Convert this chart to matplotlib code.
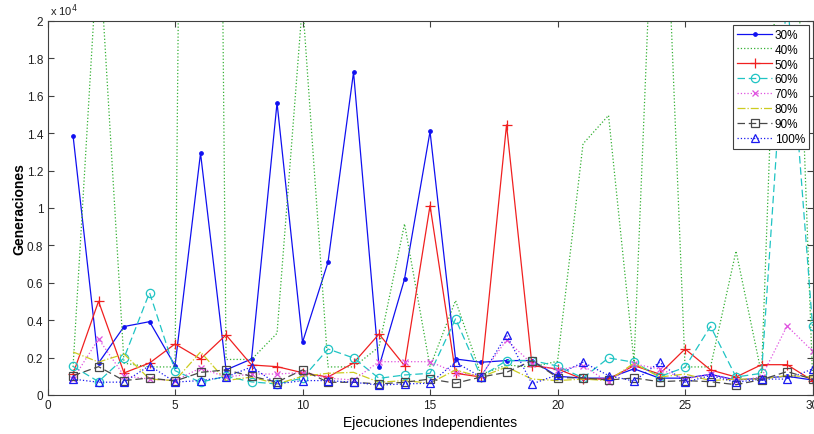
import numpy as np
import matplotlib
matplotlib.use('Agg')
import matplotlib.pyplot as plt
from matplotlib.ticker import FuncFormatter, MultipleLocator

plt.rcParams['font.family'] = ['Liberation Sans', 'DejaVu Sans']

# Generaciones por ejecucion independiente (30 corridas) para cada porcentaje
ejecuciones = np.arange(1, 31)

gen_30 = [13870, 1710, 3660, 3920, 1570, 12930, 1340, 1925, 15620, 2820,
          7110, 17260, 1515, 6200, 14090, 1925, 1750, 1840, 1840, 1000,
          900, 900, 1400, 900, 900, 1100, 800, 900, 1000, 800]
gen_40 = [1500, 24500, 1700, 1500, 1500, 150000, 1900, 1900, 3300, 21000,
          1500, 1500, 2570, 9150, 1500, 5050, 1100, 1600, 1500, 1800,
          13430, 14950, 1760, 35500, 1500, 1500, 7700, 1120, 39000, 1000]
gen_50 = [1120, 5010, 1180, 1710, 2730, 1925, 3210, 1605, 1515, 1190,
          960, 1710, 3260, 1570, 10130, 1160, 960, 14445, 1570, 1390,
          850, 850, 1570, 1120, 2460, 1340, 960, 1620, 1620, 770]
gen_60 = [1530, 715, 1980, 5475, 1300, 680, 1000, 700, 590, 900,
          2460, 1980, 890, 1070, 1160, 4070, 980, 1840, 1840, 1550,
          910, 1980, 1750, 980, 1480, 3670, 960, 1160, 21500, 3700]
gen_70 = [850, 3000, 1030, 850, 770, 1440, 960, 1120, 1120, 1200,
          900, 800, 1780, 1780, 1780, 1200, 1040, 2940, 1660, 1340,
          1570, 680, 1660, 1390, 850, 1120, 770, 960, 3690, 2350]
gen_80 = [2300, 1760, 2190, 850, 770, 2300, 770, 960, 590, 1000,
          1160, 1210, 680, 770, 630, 1340, 960, 1500, 850, 770,
          850, 770, 1700, 960, 1120, 770, 850, 850, 1040, 960]
gen_90 = [1030, 1515, 770, 910, 745, 1210, 1340, 1000, 690, 1340,
          680, 680, 590, 680, 850, 630, 960, 1210, 1840, 930,
          910, 800, 910, 710, 770, 710, 550, 820, 1250, 850]
gen_100 = [850, 680, 690, 1570, 690, 770, 960, 1500, 590, 770,
           770, 680, 530, 590, 630, 1750, 960, 3210, 590, 1080,
           1750, 1040, 740, 1750, 680, 1040, 680, 850, 850, 1390]

etiquetas = ['30%', '40%', '50%', '60%', '70%', '80%', '90%', '100%']
series = [gen_30, gen_40, gen_50, gen_60, gen_70, gen_80, gen_90, gen_100]

# estilo tipo MATLAB: color, linea, marcador
estilos = [
    dict(color='#1010f0', ls='-', marker='.', ms=5),
    dict(color='#33b033', ls=':', marker='None'),
    dict(color='#f02020', ls='-', marker='+', ms=7),
    dict(color='#20c4c4', ls=(0, (6, 3)), marker='o', ms=6, mfc='none'),
    dict(color='#e050e0', ls=':', marker='x', ms=4),
    dict(color='#cccc20', ls='-.', marker='None'),
    dict(color='#484848', ls=(0, (6, 3)), marker='s', ms=5.5, mfc='none'),
    dict(color='#1a1af0', ls=':', marker='^', ms=6, mfc='none'),
]

fig = plt.figure(figsize=(8.14, 4.35), dpi=100)
ax = fig.add_axes([0.0584, 0.0897, 0.9398, 0.8598])

for datos, nombre, st in zip(series, etiquetas, estilos):
    ax.plot(ejecuciones, datos, label=nombre, lw=0.9, mew=0.9, **st)

ax.set_xlim(0, 30)
ax.set_ylim(0, 20000)
ax.xaxis.set_major_locator(MultipleLocator(5))
ax.yaxis.set_major_locator(MultipleLocator(2000))
ax.yaxis.set_major_formatter(FuncFormatter(lambda v, p: f'{v / 1e4:g}'))

gris = '#404040'
for s in ax.spines.values():
    s.set_color(gris)
    s.set_linewidth(0.8)
ax.tick_params(direction='in', top=True, right=True, length=4, width=0.8,
               color=gris, labelsize=8.5, labelcolor='#202020', pad=3)

ax.text(0.003, 1.008, r'x 10$^4$', transform=ax.transAxes, fontsize=8,
        color='#202020', ha='left', va='bottom')

ax.set_xlabel('Ejecuciones Independientes', fontsize=10, labelpad=3)
ax.set_ylabel('Generaciones', fontsize=10, fontweight='bold', labelpad=0)

leg = ax.legend(loc='upper right', fontsize=8.5, fancybox=False,
                edgecolor=gris, framealpha=1, handlelength=3.0,
                labelspacing=0.25, borderpad=0.35, handletextpad=0.2,
                borderaxespad=0.3)
leg.get_frame().set_linewidth(0.8)

fig.savefig('out.png', dpi=100)
